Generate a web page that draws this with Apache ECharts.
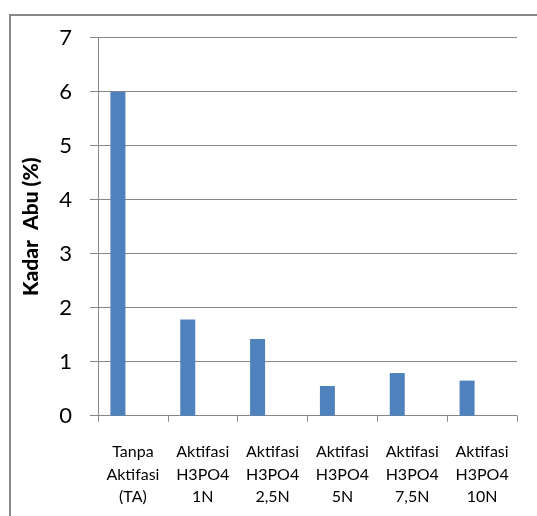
<!DOCTYPE html>
<html>
<head>
<meta charset="utf-8">
<script src="https://cdn.jsdelivr.net/npm/echarts@6/dist/echarts.min.js"></script>
<style>
html,body{margin:0;padding:0;background:#fff;}
#chart{width:537px;height:516px;}
</style>
</head>
<body>
<div id="chart"></div>
<script>
var categories = ["Tanpa\nAktifasi\n(TA)", "Aktifasi\nH3PO4\n1N", "Aktifasi\nH3PO4\n2,5N", "Aktifasi\nH3PO4\n5N", "Aktifasi\nH3PO4\n7,5N", "Aktifasi\nH3PO4\n10N"];
var kadarAbu = [6.0, 1.78, 1.42, 0.55, 0.79, 0.65];
var emptySeries2 = [null, null, null, null, null, null];
var emptySeries3 = [null, null, null, null, null, null];
var yTicks = [0, 1, 2, 3, 4, 5, 6, 7];

var chart = echarts.init(document.getElementById('chart'));
var font = 'Lato, "Open Sans", sans-serif';
chart.setOption({
  animation: false,
  graphic: [{
    type: 'rect', left: 9, top: 14, z: -1,
    shape: {width: 700, height: 700},
    style: {fill: '#fff', stroke: '#888', lineWidth: 2}
  }],
  grid: {left: 98, right: 20, top: 37.7, bottom: 100.3},
  xAxis: {
    type: 'category',
    data: categories,
    axisLine: {lineStyle: {color: '#868686', width: 1}},
    axisTick: {show: true, length: 6, lineStyle: {color: '#868686'}},
    axisLabel: {color: '#000', fontFamily: font, fontSize: 16, lineHeight: 22.5, margin: 25, interval: 0}
  },
  yAxis: {
    type: 'value',
    min: yTicks[0], max: yTicks[yTicks.length - 1], interval: 1,
    name: 'Kadar  Abu (%)',
    nameLocation: 'middle',
    nameGap: 56,
    nameTextStyle: {color: '#000', fontFamily: font, fontWeight: 900, fontSize: 21},
    axisLine: {show: true, lineStyle: {color: '#868686'}},
    axisTick: {show: true, length: 8, lineStyle: {color: '#868686'}},
    splitLine: {lineStyle: {color: '#868686'}},
    axisLabel: {color: '#000', fontFamily: font, fontSize: 22, margin: 26}
  },
  series: [
    {type: 'bar', data: kadarAbu, barWidth: 15, barGap: '0%', itemStyle: {color: '#4F81BD'}},
    {type: 'bar', data: emptySeries2, barWidth: 15, barGap: '0%', itemStyle: {color: '#C0504D'}},
    {type: 'bar', data: emptySeries3, barWidth: 15, barGap: '0%', itemStyle: {color: '#9BBB59'}}
  ]
});
</script>
</body>
</html>
